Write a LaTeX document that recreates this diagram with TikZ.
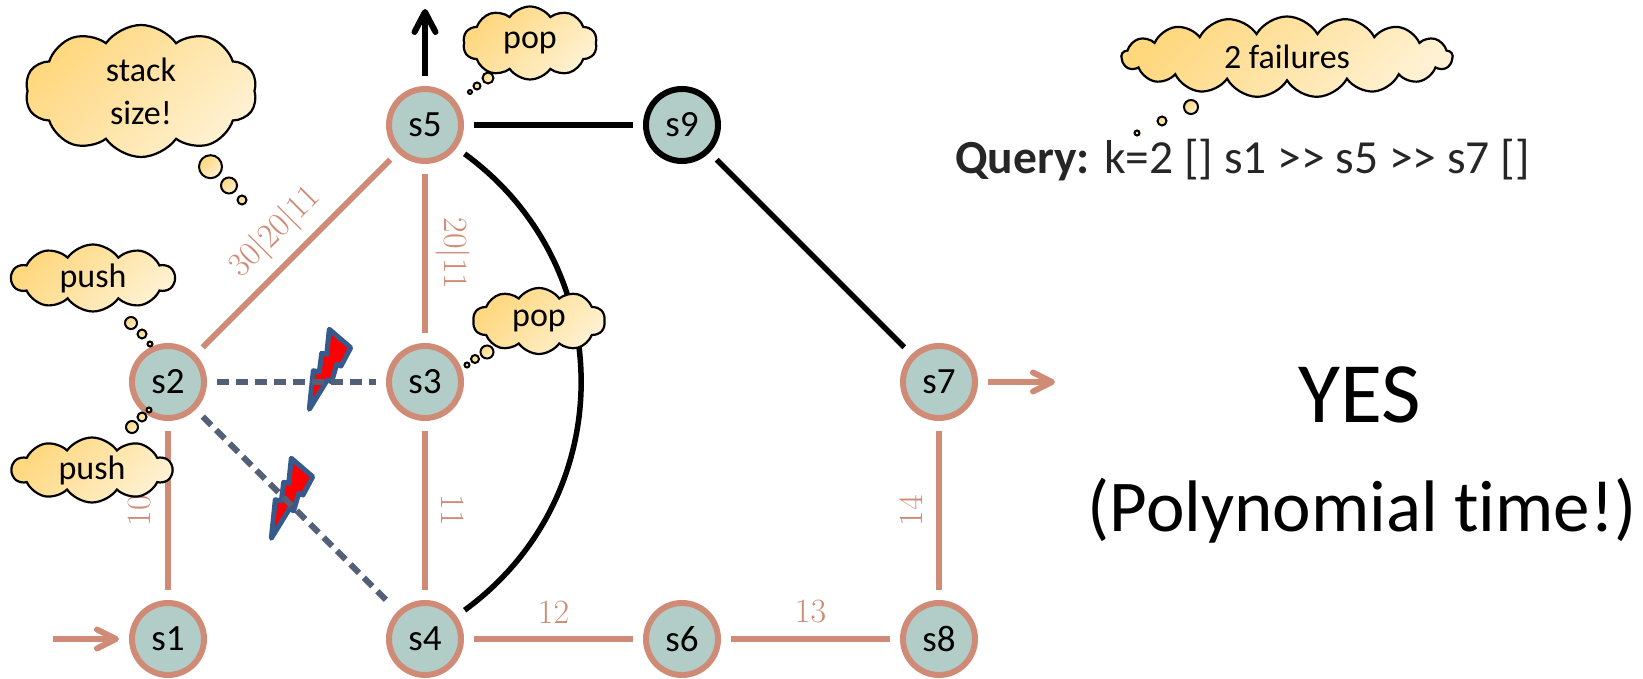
\documentclass[tikz,border=0pt]{standalone}
\usepackage{fontspec}
\newfontfamily\calibri[Ligatures=NoCommon]{Carlito}
\usetikzlibrary{shapes.symbols,arrows.meta,calc}

\definecolor{nodefill}{RGB}{178,205,199}
\definecolor{rose}{RGB}{207,139,118}
\definecolor{slate}{RGB}{83,96,120}
\definecolor{boltblue}{RGB}{55,90,140}
\definecolor{cloudA}{RGB}{255,215,125}
\definecolor{cloudB}{RGB}{255,241,210}
\definecolor{ink}{RGB}{38,38,38}

\tikzset{
  state/.style={circle, minimum size=72pt, inner sep=0pt, line width=6pt,
    draw=rose, fill=nodefill, outer sep=13pt,
    font=\calibri\fontsize{37}{44}\selectfont},
  hub/.style={state, draw=black},
  roseedge/.style={draw=rose, line width=6pt},
  blackedge/.style={draw=black, line width=5.5pt},
  failedge/.style={draw=slate, line width=6pt, dash pattern=on 12pt off 7pt},
  wlabel/.style={text=rose, font=\fontsize{34}{40}\selectfont, inner sep=0pt},
  roseflow/.style={roseedge, -{Straight Barb[length=19pt,width=19pt,round]}},
  blackflow/.style={draw=black, line width=6pt, -{Straight Barb[length=20pt,width=21pt,round]}},
  thought/.style={cloud, cloud puffs=10, cloud puff arc=110, cloud ignores aspect,
    draw=black, line width=2.2pt, top color=cloudA, bottom color=cloudB,
    shading angle=45, inner sep=0pt, align=center,
    font=\calibri\fontsize{34}{43}\selectfont},
  bubble/.style={draw=black, line width=2pt, top color=cloudA, bottom color=cloudB,
    shading angle=45},
  bolt/.style={fill=red, draw=boltblue, line width=5pt, line join=round},
  bigtext/.style={anchor=base, inner sep=0pt, text=black},
}

\begin{document}
\begin{tikzpicture}[x=1pt,y=1pt]
\useasboundingbox (0,0) rectangle (1643,679);

% states on a 257pt grid
\node[state] (s5) at (425,554) {s5};
\node[hub]   (s9) at (682,554) {s9};
\node[state] (s2) at (168,297) {s2};
\node[state] (s3) at (425,297) {s3};
\node[state] (s7) at (939,297) {s7};
\node[state] (s1) at (168,40)  {s1};
\node[state] (s4) at (425,40)  {s4};
\node[state] (s6) at (682,40)  {s6};
\node[state] (s8) at (939,40)  {s8};

% free ends of the entry / exit arrows
\coordinate (in1)  at (53,40);
\coordinate (out7) at (1055,297);
\coordinate (out5) at (425,670);

% weighted links
\draw[roseedge] (s1) -- (s2);
\draw[roseedge] (s2) -- (s5);
\draw[roseedge] (s5) -- (s3);
\draw[roseedge] (s3) -- (s4);
\draw[roseedge] (s4) -- (s6);
\draw[roseedge] (s6) -- (s8);
\draw[roseedge] (s7) -- (s8);

% link weights
\node[wlabel, rotate=90]  (w12) at ($(s1)!0.5!(s2)+(-28,0)$) {10};
\node[wlabel, rotate=45]  (w25) at ($(s2)!0.5!(s5)+(-21,21)$) {30|20|11};
\node[wlabel, rotate=-90] (w53) at ($(s5)!0.5!(s3)+(28,0)$) {20|11};
\node[wlabel, rotate=-90] (w34) at ($(s3)!0.5!(s4)+(28,0)$) {11};
\node[wlabel]             (w46) at ($(s4)!0.5!(s6)+(0,27)$) {12};
\node[wlabel]             (w68) at ($(s6)!0.5!(s8)+(0,27)$) {13};
\node[wlabel, rotate=90]  (w78) at ($(s7)!0.5!(s8)+(-28,0)$) {14};

% unweighted links
\draw[blackedge] (s5) -- (s9);
\draw[blackedge] (s9) -- (s7);
\draw[blackedge] (s5) .. controls (620,412) and (620,182) .. (s4);

% entry and exit arrows
\draw[roseflow] (in1) -- (s1);
\draw[roseflow] (s7) -- (out7);
\draw[blackflow] (s5) -- (out5);

% lightning bolts on the failed links
\begin{scope}[shift={(330,310)}]
\draw[bolt] (-0.7,39.7) -- (20.7,21.3) -- (11,3) -- (6.7,4.7) -- (1.7,-12.7)
  -- (-2.7,-11) -- (-20.7,-40.3) -- (-16.7,-1.7) -- (-10.7,-3) -- (-8.3,15.7)
  -- (-3.3,14.7) -- cycle;
\end{scope}
\begin{scope}[shift={(292,181)}]
\draw[bolt] (-0.7,39.7) -- (20.7,21.3) -- (11,3) -- (6.7,4.7) -- (1.7,-12.7)
  -- (-2.7,-11) -- (-20.7,-40.3) -- (-16.7,-1.7) -- (-10.7,-3) -- (-8.3,15.7)
  -- (-3.3,14.7) -- cycle;
\end{scope}

% failed links
\draw[failedge] (s2) -- (s3);
\draw[failedge] (s2) -- (s4);

% thought clouds
\node[thought, minimum width=232pt, minimum height=132pt] (cStack) at (141,588) {stack\\size!};
\node[thought, minimum width=134pt, minimum height=73pt]  (cPopTop) at (530,636) {pop};
\node[thought, minimum width=132pt, minimum height=66pt]  (cPopMid) at (539,358) {pop};
\node[thought, minimum width=163pt, minimum height=67pt]  (cPushUp) at (93,401) {push};
\node[thought, minimum width=160pt, minimum height=65pt]  (cPushLow) at (92,209) {push};
\node[thought, cloud puffs=17, cloud puff arc=120, minimum width=331pt, minimum height=81pt]
  (cFail) at (1287,622) {2 failures};

% bubbles trailing from the clouds
\draw[bubble] (210.5,512.3) circle[radius=11.5];
\draw[bubble] (229,493.5) circle[radius=8];
\draw[bubble] (242,479) circle[radius=4.5];

\draw[bubble] (488,601) circle[radius=5.5];
\draw[bubble] (477,593) circle[radius=3.5];
\draw[bubble] (470,587) circle[radius=2];

\draw[bubble] (487,327) circle[radius=6.5];
\draw[bubble] (475,320) circle[radius=4];
\draw[bubble] (467,314) circle[radius=2.5];

\draw[bubble] (131,356) circle[radius=6];
\draw[bubble] (142,345) circle[radius=4.5];
\draw[bubble] (150,335) circle[radius=2.5];

\draw[bubble] (132,252) circle[radius=6];
\draw[bubble] (142,262) circle[radius=4.5];
\draw[bubble] (149,269) circle[radius=2.5];

\draw[bubble] (1191,572) circle[radius=7];
\draw[bubble] (1162,558) circle[radius=4.5];
\draw[bubble] (1137,546) circle[radius=2.5];

% query and verdict
\node[anchor=base west, inner sep=0pt, text=ink, font=\calibri\fontsize{47.5}{56}\selectfont]
  (query) at (955,505) {\textbf{Query:} k=2 [] s1 >> s5 >> s7 []};
\node[bigtext, font=\calibri\fontsize{86}{100}\selectfont] (yes) at (1360,256) {YES};
\node[bigtext, font=\calibri\fontsize{73}{88}\selectfont] (poly) at (1362,147) {(Polynomial time!)};
\end{tikzpicture}
\end{document}
